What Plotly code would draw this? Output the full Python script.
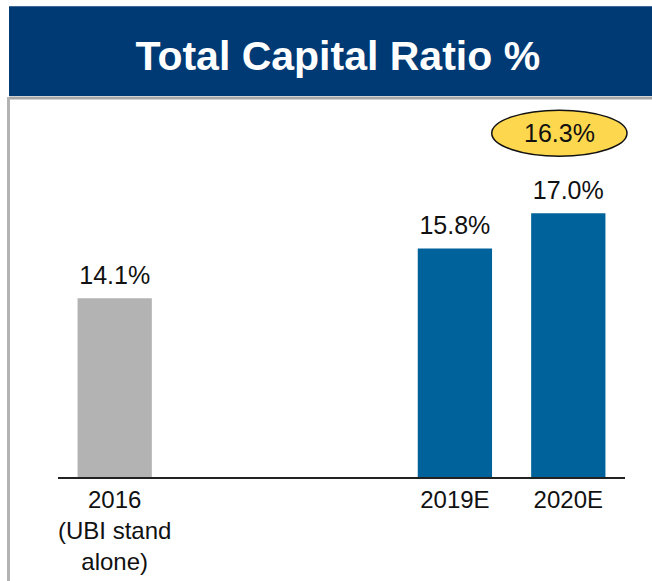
"""Total Capital Ratio % - bar chart with header band and highlighted pro-forma value."""

import plotly.graph_objects as go

# data
categories = ["2016<br>(UBI stand<br>alone)", " ", "  ", "2019E", "2020E"]
ratio_pct = [14.1, None, None, 15.8, 17.0]
bar_colors = ["#b3b3b3", "#ffffff", "#ffffff", "#00629b", "#00629b"]
highlight_label = "16.3%"
title_text = "Total Capital Ratio %"

FONT = "Liberation Sans, Arial, sans-serif"

fig = go.Figure()
fig.add_bar(
    x=categories,
    y=ratio_pct,
    marker=dict(color=bar_colors, line=dict(width=0)),
    width=0.655,
    hoverinfo="skip",
)
# value labels above the bars (invisible markers give the extra gap)
fig.add_scatter(
    x=categories,
    y=ratio_pct,
    mode="markers+text",
    marker=dict(size=11, opacity=0),
    text=[f"{v:.1f}%" if v is not None else "" for v in ratio_pct],
    textposition="top center",
    textfont=dict(size=25, color="#111111", family=FONT),
    cliponaxis=False,
    hoverinfo="skip",
)

# header band, separator line and left border (paper coords)
fig.add_shape(type="rect", xref="paper", yref="paper",
              x0=-0.0864, x1=1.06, y0=1.0106, y1=1.249,
              fillcolor="#003a75", line=dict(width=0), layer="below")
fig.add_shape(type="line", xref="paper", yref="paper",
              x0=-0.0864, x1=1.06, y0=1.0053, y1=1.0053,
              line=dict(color="#a6a6a6", width=3))
fig.add_shape(type="line", xref="paper", yref="paper",
              x0=-0.0873, x1=-0.0873, y0=1.008, y1=-0.3,
              line=dict(color="#b3b3b3", width=3))

# highlighted ellipse
fig.add_shape(type="circle", xref="paper", yref="paper",
              x0=0.765, x1=1.0035, y0=0.851, y1=0.973,
              fillcolor="#fdd84e", line=dict(color="#111111", width=1.5))
fig.add_annotation(x=0.884, y=0.912, xref="paper", yref="paper",
                   xanchor="center", yanchor="middle",
                   text=highlight_label, showarrow=False,
                   font=dict(size=25, color="#111111", family=FONT))

fig.update_layout(
    width=652, height=581,
    margin=dict(l=58, r=27, t=100, b=104),
    paper_bgcolor="white", plot_bgcolor="white",
    showlegend=False,
    font=dict(family=FONT, color="#111111"),
    title=dict(text="<b>" + title_text + "</b>", x=0.518, y=0.905,
               xanchor="center", yanchor="middle",
               font=dict(size=41, color="white", family=FONT)),
    barmode="overlay",
)
fig.update_xaxes(
    type="category",
    showline=True, linecolor="#222222", linewidth=1.5,
    showgrid=False, ticks="",
    automargin=False,
    tickfont=dict(size=24, color="#111111", family=FONT),
    fixedrange=True,
)
fig.update_yaxes(
    range=[8, 20.87], visible=False, showgrid=False, fixedrange=True,
    automargin=False,
)

# the page's default 8px body margin would shift the figure
fig.write_html("out.html", config={"displayModeBar": False},
               post_script="document.body.style.margin='0';")
